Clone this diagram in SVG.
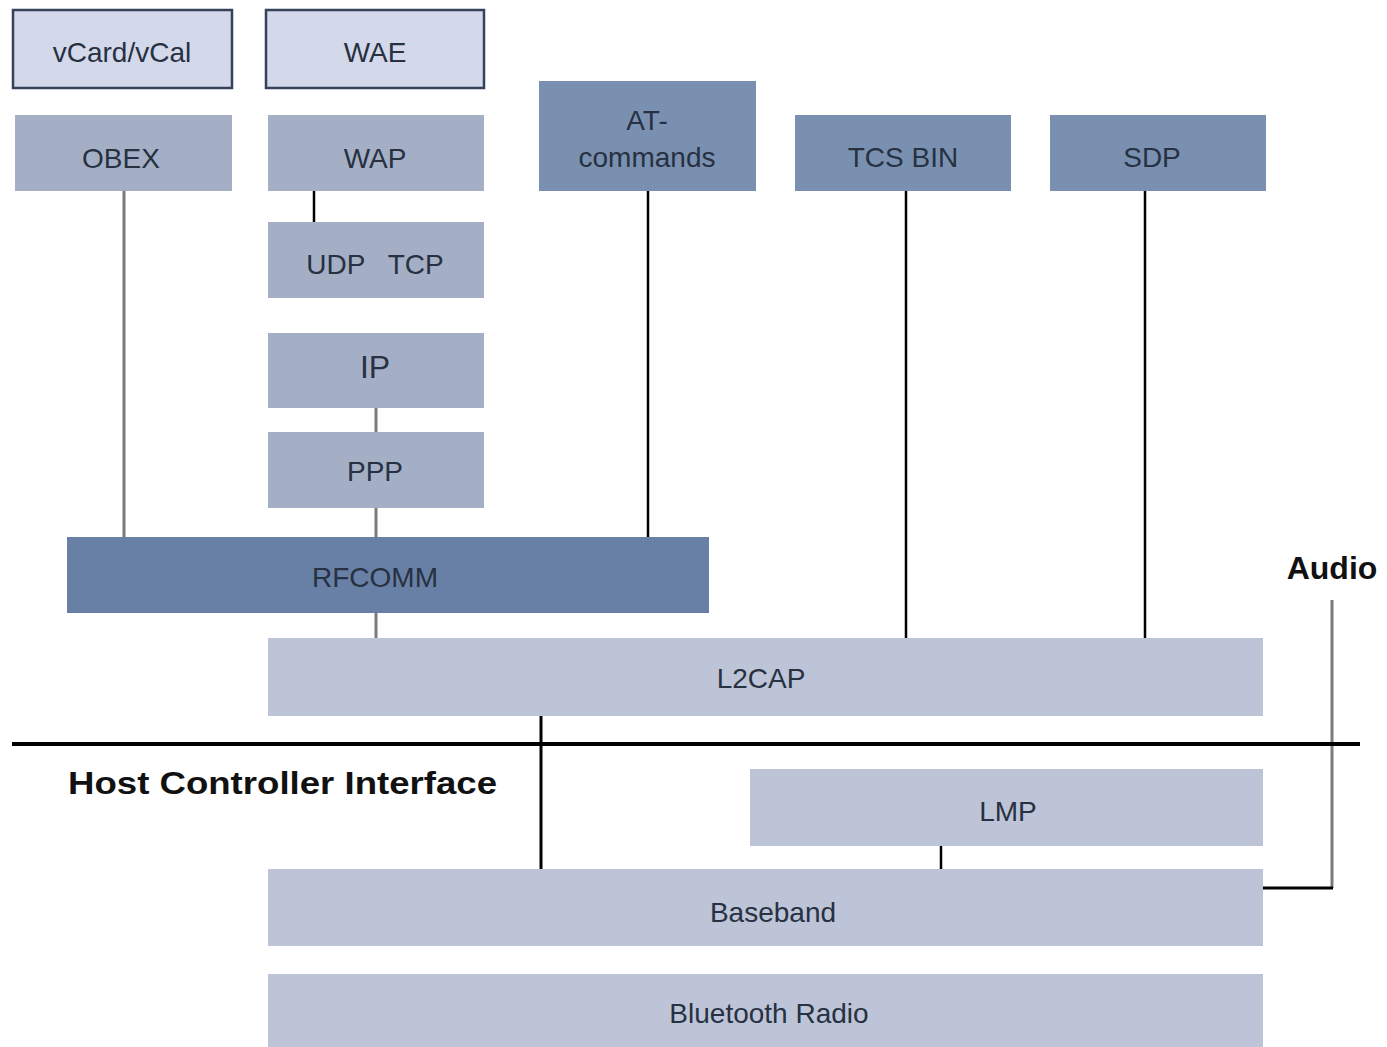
<svg xmlns="http://www.w3.org/2000/svg" width="1387" height="1047" viewBox="0 0 1387 1047">
<style>
text{font-family:"Liberation Sans",Arial,sans-serif;font-size:28px;fill:#273142;text-anchor:middle}
.top{fill:#d3d9ea;stroke:#34425a;stroke-width:2.5}
.mid{fill:#a4afc5}
.dark{fill:#7a90b0}
.rf{fill:#6880a6}
.low{fill:#bdc4d7}
.lg{stroke:#7a7a7a;stroke-width:3;fill:none}
.lb{stroke:#000;stroke-width:2.5;fill:none}
.bold{font-weight:bold;fill:#111}
</style>
<rect width="1387" height="1047" fill="#fff"/>
<g id="vcard"><rect class="top" x="13" y="10" width="219" height="78"/><text x="122" y="62">vCard/vCal</text></g>
<g id="wae"><rect class="top" x="266" y="10" width="218" height="78"/><text x="375" y="62">WAE</text></g>
<g id="obex"><rect class="mid" x="15" y="115" width="217" height="76"/><text x="121" y="168">OBEX</text></g>
<g id="wap"><rect class="mid" x="268" y="115" width="216" height="76"/><text x="375" y="168">WAP</text></g>
<g id="udptcp"><rect class="mid" x="268" y="222" width="216" height="76"/><text x="375" y="274" xml:space="preserve">UDP   TCP</text></g>
<g id="ip"><rect class="mid" x="268" y="333" width="216" height="75"/><text x="375" y="378" style="font-size:32px">IP</text></g>
<g id="ppp"><rect class="mid" x="268" y="432" width="216" height="76"/><text x="375" y="481">PPP</text></g>
<g id="at"><rect class="dark" x="539" y="81" width="217" height="110"/><text x="647" y="130">AT-</text><text x="647" y="167">commands</text></g>
<g id="tcsbin"><rect class="dark" x="795" y="115" width="216" height="76"/><text x="903" y="167">TCS BIN</text></g>
<g id="sdp"><rect class="dark" x="1050" y="115" width="216" height="76"/><text x="1152" y="167">SDP</text></g>
<g id="rfcomm"><rect class="rf" x="67" y="537" width="642" height="76"/><text x="375" y="587">RFCOMM</text></g>
<g id="l2cap"><rect class="low" x="268" y="638" width="995" height="78"/><text x="761" y="688">L2CAP</text></g>
<g id="lmp"><rect class="low" x="750" y="769" width="513" height="77"/><text x="1008" y="821">LMP</text></g>
<g id="baseband"><rect class="low" x="268" y="869" width="995" height="77"/><text x="773" y="922">Baseband</text></g>
<g id="radio"><rect class="low" x="268" y="974" width="995" height="73"/><text x="769" y="1023">Bluetooth Radio</text></g>
<g id="labels">
<text class="bold" x="1332" y="579" style="font-size:32px">Audio</text>
<text class="bold" x="68" y="794" style="font-size:32px;text-anchor:start" textLength="429" lengthAdjust="spacingAndGlyphs">Host Controller Interface</text>
</g>
<g id="connectors">
<line class="lg" x1="124" y1="191" x2="124" y2="537"/>
<line class="lb" x1="314" y1="191" x2="314" y2="222"/>
<line class="lg" x1="376" y1="408" x2="376" y2="432"/>
<line class="lg" x1="376" y1="508" x2="376" y2="537"/>
<line class="lg" x1="376" y1="613" x2="376" y2="638"/>
<line class="lb" x1="648" y1="191" x2="648" y2="537"/>
<line class="lb" x1="906" y1="191" x2="906" y2="638"/>
<line class="lb" x1="1145" y1="191" x2="1145" y2="638"/>
<line class="lb" x1="541" y1="716" x2="541" y2="869" style="stroke-width:3"/>
<line class="lb" x1="941" y1="846" x2="941" y2="869"/>
<line class="lg" x1="1332" y1="600" x2="1332" y2="888"/>
<line class="lb" x1="1263" y1="888" x2="1333" y2="888" style="stroke-width:3"/>
<line x1="12" y1="744" x2="1360" y2="744" stroke="#000" stroke-width="4"/>
</g>
</svg>
